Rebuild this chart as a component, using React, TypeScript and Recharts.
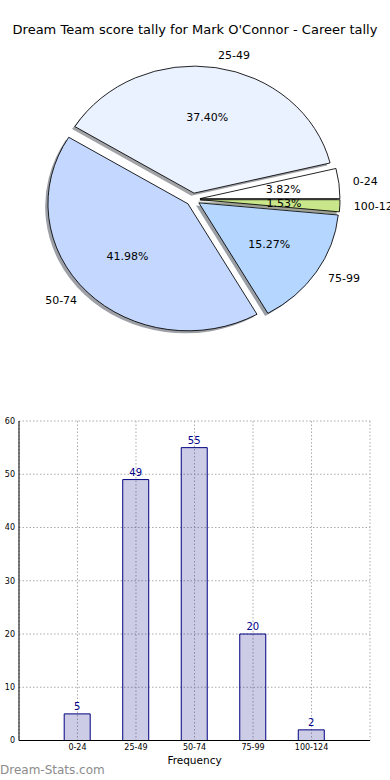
import React from "react";
import {
  Bar,
  BarChart,
  CartesianGrid,
  Cell,
  LabelList,
  Pie,
  PieChart,
  Sector,
  XAxis,
  YAxis,
} from "recharts";

const categories = ["0-24", "25-49", "50-74", "75-99", "100-124"];
const counts = [5, 49, 55, 20, 2];
const sliceColors = ["#ffffff", "#eaf1ff", "#c4d8ff", "#b4d6ff", "#c9e68a"];
const yTicks = [0, 10, 20, 30, 40, 50, 60];

const title = "Dream Team score tally for Mark O'Connor - Career tally";
const FONT = "'DejaVu Sans', sans-serif";

// pie is drawn a bit squashed, like the matplotlib original
const K = 127 / 140;
const EXPLODE = 0.05;

const pieData = categories.map((name, i) => ({ name, value: counts[i] }));
const barData = categories.map((name, i) => ({ name, count: counts[i] }));

const darken = (hex: string) => {
  const n = parseInt(hex.slice(1), 16);
  const c = [(n >> 16) & 255, (n >> 8) & 255, n & 255].map((v) => Math.round(v * 0.3));
  return `rgb(${c[0]},${c[1]},${c[2]})`;
};

function offsetFor(p: any) {
  const mid = (p.startAngle + p.endAngle) / 2;
  const rad = (-mid * Math.PI) / 180;
  return {
    cos: Math.cos(rad),
    sin: Math.sin(rad),
    dx: EXPLODE * p.outerRadius * Math.cos(rad),
    dy: EXPLODE * p.outerRadius * Math.sin(rad) * K,
  };
}

function wedge(shadow: boolean) {
  return (p: any) => {
    const { dx, dy } = offsetFor(p);
    const sx = shadow ? -0.02 * p.outerRadius : 0;
    const sy = shadow ? 0.02 * p.outerRadius * K : 0;
    return (
      <g
        transform={`translate(${p.cx + dx + sx},${p.cy + dy + sy}) scale(1,${K}) translate(${-p.cx},${-p.cy})`}
      >
        <Sector
          cx={p.cx}
          cy={p.cy}
          innerRadius={0}
          outerRadius={p.outerRadius}
          startAngle={p.startAngle}
          endAngle={p.endAngle}
          fill={p.fill}
          fillOpacity={shadow ? 0.5 : 1}
          stroke={shadow ? "none" : "#000"}
          strokeWidth={0.9}
        />
      </g>
    );
  };
}

function pieLabel(p: any) {
  const { cos, sin, dx, dy } = offsetFor(p);
  const r = p.outerRadius;
  const ox = p.cx + dx + 1.1 * r * cos;
  const oy = p.cy + dy + 1.1 * r * sin * K;
  const ix = p.cx + dx + 0.6 * r * cos;
  const iy = p.cy + dy + 0.6 * r * sin * K;
  return (
    <g style={{ fontFamily: FONT, fontSize: 11 }}>
      <text x={ox} y={oy} textAnchor={cos > 0 ? "start" : "end"} dominantBaseline="central" fill="#000">
        {p.name}
      </text>
      <text x={ix} y={iy} textAnchor="middle" dominantBaseline="central" fill="#000">
        {(p.percent * 100).toFixed(2)}%
      </text>
    </g>
  );
}

export default function App() {
  return (
    <div
      style={{
        position: "absolute",
        left: 0,
        top: 0,
        width: 390,
        height: 780,
        overflow: "hidden",
        background: "#fff",
        fontFamily: FONT,
      }}
    >
      <div
        style={{
          position: "absolute",
          top: 22,
          left: 0,
          width: 390,
          textAlign: "center",
          fontSize: 13,
          lineHeight: "16px",
          color: "#000",
        }}
      >
        {title}
      </div>

      <div style={{ position: "absolute", top: 0, left: 0 }}>
        <PieChart width={390} height={400} margin={{ top: 0, right: 0, bottom: 0, left: 0 }}>
          <Pie
            data={pieData}
            dataKey="value"
            nameKey="name"
            cx={193}
            cy={199.4}
            outerRadius={140}
            startAngle={0}
            endAngle={360}
            stroke="none"
            shape={wedge(true)}
            isAnimationActive={false}
          >
            {pieData.map((d, i) => (
              <Cell key={d.name} fill={darken(sliceColors[i])} />
            ))}
          </Pie>
          <Pie
            data={pieData}
            dataKey="value"
            nameKey="name"
            cx={193}
            cy={199.4}
            outerRadius={140}
            startAngle={0}
            endAngle={360}
            shape={wedge(false)}
            label={pieLabel}
            labelLine={false}
            isAnimationActive={false}
          >
            {pieData.map((d, i) => (
              <Cell key={d.name} fill={sliceColors[i]} />
            ))}
          </Pie>
        </PieChart>
      </div>

      <div style={{ position: "absolute", top: 400, left: 0 }}>
        <BarChart width={390} height={380} data={barData} margin={{ top: 21, right: 20, bottom: 9.5, left: 0 }}>
          <CartesianGrid stroke="#aaa" strokeDasharray="1.5 2" />
          <XAxis
            dataKey="name"
            padding={{ left: 29.2, right: 29.2 }}
            height={30}
            tickLine={false}
            tickSize={0}
            tickMargin={4}
            axisLine={{ stroke: "#000" }}
            tick={{ fontSize: 8, fill: "#000", fontFamily: FONT }}
            interval={0}
          />
          <XAxis
            xAxisId="top"
            orientation="top"
            dataKey="name"
            height={0}
            tick={false}
            tickLine={false}
            axisLine={{ stroke: "#000" }}
          />
          <YAxis
            width={19}
            domain={[0, 60]}
            ticks={yTicks}
            tickLine={false}
            tickSize={0}
            tickMargin={4}
            axisLine={{ stroke: "#000" }}
            tick={{ fontSize: 8, fill: "#000", fontFamily: FONT }}
          />
          <YAxis
            yAxisId="right"
            orientation="right"
            width={0}
            domain={[0, 60]}
            tick={false}
            tickLine={false}
            axisLine={{ stroke: "#000" }}
          />
          <Bar
            dataKey="count"
            barSize={26}
            fill="#000080"
            fillOpacity={0.2}
            stroke="#000080"
            strokeWidth={1}
            isAnimationActive={false}
          >
            <LabelList
              dataKey="count"
              position="top"
              offset={4}
              fill="#00008b"
              fontSize={10}
              fontFamily={FONT}
            />
          </Bar>
        </BarChart>
      </div>

      <div
        style={{
          position: "absolute",
          top: 753,
          left: 19,
          width: 351,
          textAlign: "center",
          fontSize: 10.5,
          lineHeight: "14px",
          color: "#000",
        }}
      >
        Frequency
      </div>
      <div
        style={{
          position: "absolute",
          top: 763,
          left: 0,
          fontSize: 12,
          lineHeight: "14px",
          color: "#8c8c8c",
        }}
      >
        Dream-Stats.com
      </div>
    </div>
  );
}
